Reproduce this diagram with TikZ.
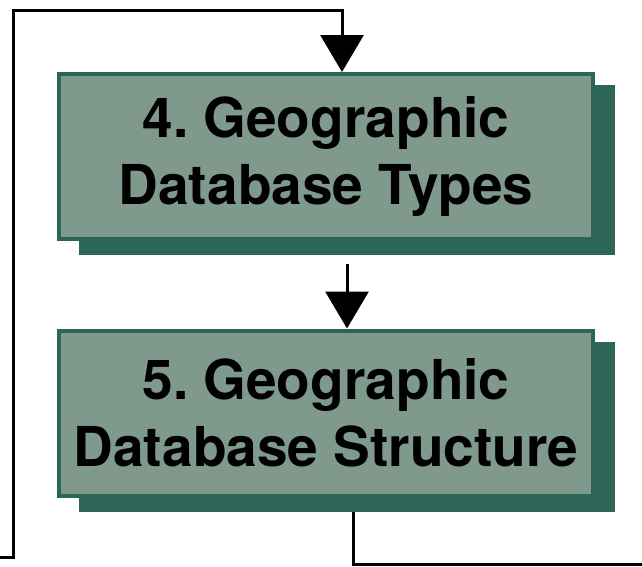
\documentclass[tikz,border=0pt]{standalone}
\usepackage{fontspec}
\setmainfont{TeX Gyre Heros}
\usetikzlibrary{arrows.meta,backgrounds,calc}

\definecolor{boxfill}{RGB}{127,153,141}
\definecolor{boxedge}{RGB}{45,102,86}

\tikzset{
  stagebox/.style={draw=boxedge, line width=4pt, fill=boxfill,
    rectangle, inner sep=0pt, minimum width=534pt, minimum height=165pt,
    align=center, font=\fontsize{55}{67}\selectfont\bfseries\frenchspacing},
  boxshadow/.style={fill=boxedge, draw=none},
  conn/.style={draw=black, line width=3pt},
  flow/.style={conn, -{Triangle[width=43pt,length=37pt]}},
}

\begin{document}
\begin{tikzpicture}[x=1pt,y=-1pt]
  \useasboundingbox (0,0) rectangle (642,566);

  % process stages
  \node[stagebox] (box4) at (326,156.5) {4. Geographic\\Database Types};
  \node[stagebox] (box5) at (326,413) {5. Geographic\\Database Structure};

  % loose ends of the feedback loop
  \coordinate (inL) at (0,557);
  \coordinate (loopTop) at (13,10);
  \coordinate (outR) at (642,564);

  \begin{scope}[on background layer]
    % connectors
    \draw[flow] (inL) -| (loopTop) -| ([xshift=16pt]box4.north);
    \draw[flow] ([shift={(21,23)}]box4.south) -- ([xshift=21pt]box5.north);
    \draw[conn] ([xshift=27pt]box5.south) |- (outR);
    % drop shadows
    \fill[boxshadow] ($(box4.north west)+(22,13)$) rectangle ($(box4.south east)+(20,14)$);
    \fill[boxshadow] ($(box5.north west)+(22,13)$) rectangle ($(box5.south east)+(20,14)$);
  \end{scope}
\end{tikzpicture}
\end{document}
